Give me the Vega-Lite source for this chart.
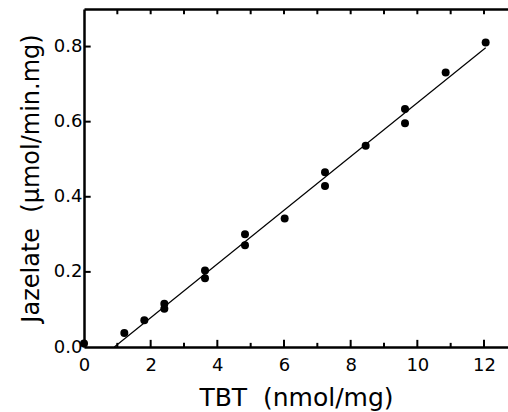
{
  "$schema": "https://vega.github.io/schema/vega-lite/v6.json",
  "width": 424,
  "height": 338,
  "autosize": {"type": "none"},
  "padding": {"left": 84, "top": 9, "right": 0, "bottom": 65},
  "background": "white",
  "config": {
    "view": {"stroke": null},
    "axis": {
      "grid": false,
      "ticks": false,
      "domainColor": "black",
      "domainWidth": 2.5,
      "labelColor": "black",
      "labelFont": "DejaVu Sans",
      "labelFontSize": 18,
      "titleFont": "DejaVu Sans",
      "titleFontSize": 25,
      "titleFontWeight": "normal",
      "titleColor": "black"
    }
  },
  "datasets": {
    "points": [
      {"tbt": 0.0, "j": 0.009},
      {"tbt": 1.21, "j": 0.037},
      {"tbt": 1.81, "j": 0.071},
      {"tbt": 2.41, "j": 0.115},
      {"tbt": 2.41, "j": 0.102},
      {"tbt": 3.63, "j": 0.204},
      {"tbt": 3.63, "j": 0.183},
      {"tbt": 4.83, "j": 0.300},
      {"tbt": 4.83, "j": 0.271},
      {"tbt": 6.02, "j": 0.342},
      {"tbt": 7.23, "j": 0.465},
      {"tbt": 7.23, "j": 0.429},
      {"tbt": 8.45, "j": 0.536},
      {"tbt": 9.63, "j": 0.634},
      {"tbt": 9.63, "j": 0.596},
      {"tbt": 10.85, "j": 0.731},
      {"tbt": 12.05, "j": 0.811}
    ],
    "fit": [
      {"tbt": 0.91, "j": 0.0},
      {"tbt": 12.05, "j": 0.797}
    ],
    "xmajor": [{"v": 2}, {"v": 4}, {"v": 6}, {"v": 8}, {"v": 10}, {"v": 12}],
    "xminor": [{"v": 1}, {"v": 3}, {"v": 5}, {"v": 7}, {"v": 9}, {"v": 11}],
    "xtop": [{"v": 1}, {"v": 2}, {"v": 3}, {"v": 4}, {"v": 5}, {"v": 6}, {"v": 7}, {"v": 8}, {"v": 9}, {"v": 10}, {"v": 11}, {"v": 12}],
    "yticks": [{"v": 0.2}, {"v": 0.4}, {"v": 0.6}, {"v": 0.8}]
  },
  "layer": [
    {
      "data": {"name": "points"},
      "mark": {"type": "point", "shape": "circle", "filled": true, "size": 64, "color": "black", "opacity": 1},
      "encoding": {
        "x": {
          "field": "tbt", "type": "quantitative",
          "scale": {"domain": [0, 12.72], "nice": false, "zero": false},
          "axis": {
            "orient": "bottom",
            "title": "TBT\u00a0\u00a0(nmol/mg)",
            "values": [0, 2, 4, 6, 8, 10, 12],
            "labelFlush": false,
            "labelPadding": 9,
            "titlePadding": 11
          }
        },
        "y": {
          "field": "j", "type": "quantitative",
          "scale": {"domain": [0, 0.9], "nice": false},
          "axis": {
            "title": "Jazelate\u00a0\u00a0(µmol/min.mg)",
            "titleFontSize": 24,
            "values": [0, 0.2, 0.4, 0.6, 0.8],
            "format": ".1f",
            "labelPadding": 2,
            "titlePadding": 10
          }
        }
      }
    },
    {
      "data": {"name": "fit"},
      "mark": {"type": "line", "color": "black", "strokeWidth": 1.2},
      "encoding": {
        "x": {
          "field": "tbt", "type": "quantitative",
          "axis": {"orient": "top", "title": null, "labels": false}
        },
        "y": {"field": "j", "type": "quantitative"}
      }
    },
    {
      "data": {"name": "xmajor"},
      "mark": {"type": "rule", "color": "black", "strokeWidth": 2},
      "encoding": {
        "x": {"field": "v", "type": "quantitative", "axis": null},
        "y": {"datum": 0},
        "y2": {"datum": 0.019}
      }
    },
    {
      "data": {"name": "xminor"},
      "mark": {"type": "rule", "color": "black", "strokeWidth": 2},
      "encoding": {
        "x": {"field": "v", "type": "quantitative", "axis": null},
        "y": {"datum": 0},
        "y2": {"datum": 0.011}
      }
    },
    {
      "data": {"name": "xtop"},
      "mark": {"type": "rule", "color": "black", "strokeWidth": 2},
      "encoding": {
        "x": {"field": "v", "type": "quantitative", "axis": null},
        "y": {"datum": 0.9},
        "y2": {"datum": 0.886}
      }
    },
    {
      "data": {"name": "yticks"},
      "mark": {"type": "rule", "color": "black", "strokeWidth": 2},
      "encoding": {
        "y": {"field": "v", "type": "quantitative"},
        "x": {"datum": 0, "axis": null},
        "x2": {"datum": 0.2}
      }
    }
  ],
  "resolve": {"axis": {"x": "independent"}}
}
